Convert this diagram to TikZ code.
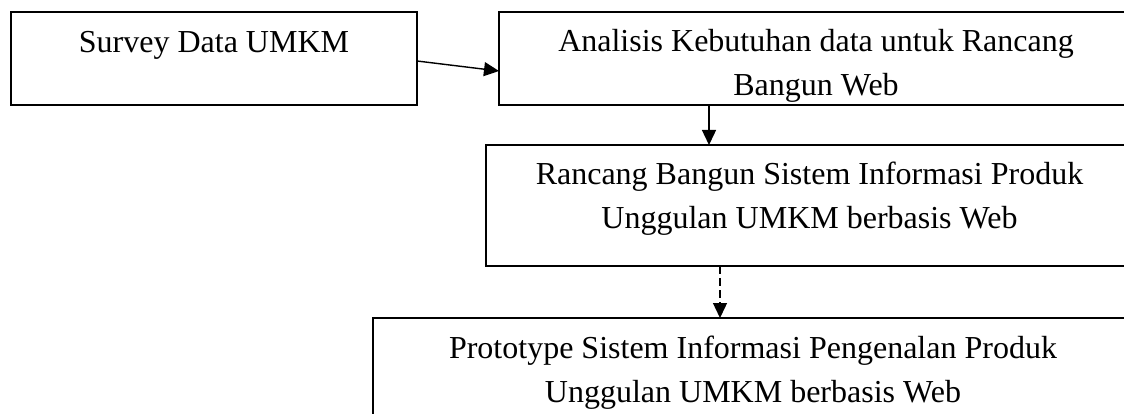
\documentclass[tikz,border=0pt]{standalone}
\usepackage{fontspec}
\setmainfont{Liberation Serif}
\usetikzlibrary{arrows.meta}
\begin{document}
\begin{tikzpicture}[x=1pt,y=-1pt,
  box/.style={draw, line width=1.8pt, inner sep=0pt, outer sep=0pt, anchor=north west},
  txt/.style={anchor=base, align=center, inner sep=0pt, font=\fontsize{32pt}{44pt}\selectfont},
  arr/.style={line width=1.4pt, -{Triangle[length=15pt,width=14pt]}},
  dashline/.style={dash pattern=on 8pt off 4pt}]
\clip (0,0) rectangle (1124,414);
\node[box, minimum width=406pt, minimum height=93pt] (b1) at (11,12) {};
\node[box, minimum width=634pt, minimum height=93pt] (b2) at (499,12) {};
\node[box, minimum width=647pt, minimum height=121pt] (b3) at (486,145) {};
\node[box, minimum width=760pt, minimum height=130pt] (b4) at (373,318) {};
\node[txt] (t1) at (214,53) {Survey Data UMKM};
\begin{scope}
\clip (499,12) rectangle (1133,102);
\node[txt] (t2) at (816,96) {Analisis Kebutuhan data untuk Rancang\\Bangun Web};
\end{scope}
\node[txt] (t3) at (809.5,229) {Rancang Bangun Sistem Informasi Produk\\Unggulan UMKM berbasis Web};
\node[txt] (t4) at (753,402) {Prototype Sistem Informasi Pengenalan Produk\\Unggulan UMKM berbasis Web};
\draw[arr] ([yshift=-2.5pt]b1.east) -- ([yshift=-12.5pt]b2.west);
\draw[arr] ([xshift=-107pt]b2.south) -- ([xshift=-107pt]b2.south |- b3.north);
\draw[arr, dashline] ([xshift=-89.5pt]b3.south) -- ([xshift=-89.5pt]b3.south |- b4.north);
\end{tikzpicture}
\end{document}
